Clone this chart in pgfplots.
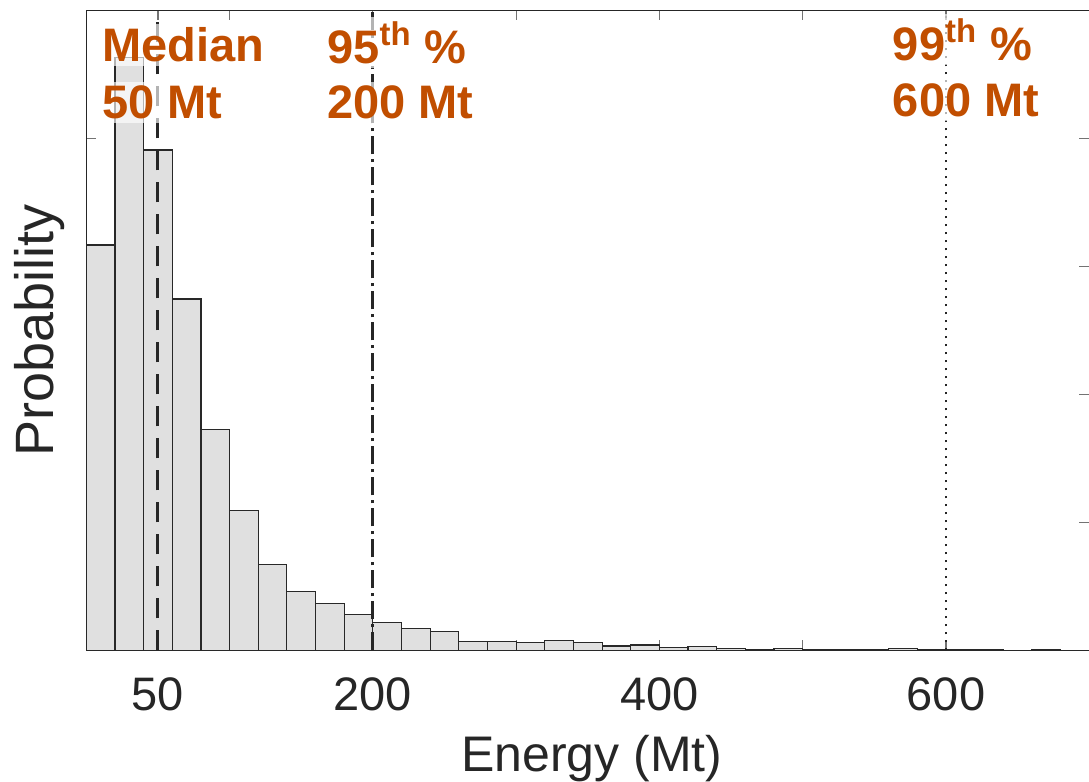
\documentclass[border=0pt]{standalone}
\usepackage{pgfplots}
\pgfplotsset{compat=1.18}
\usepackage{fontspec}
\setmainfont{Liberation Sans}

\definecolor{barfill}{RGB}{224,224,224}
\definecolor{baredge}{RGB}{40,40,40}
\definecolor{axisgray}{RGB}{38,38,38}
\definecolor{annot}{RGB}{193,78,0}

\tikzset{
  annotation/.style={font=\bfseries\fontsize{23.5pt}{28pt}\selectfont, text=annot,
    anchor=base west, inner sep=2pt, xshift=-2pt,
    fill=white, fill opacity=0.65, text opacity=1},
}

\begin{document}
\begin{tikzpicture}
\path[use as bounding box] (-43.15pt,-65.85pt) rectangle (501.35pt,325.15pt);
\begin{axis}[
  scale only axis, width=501.5pt, height=320pt,
  xmin=0, xmax=700, ymin=0, ymax=5,
  xtick={50,100,200,300,400,500,600},
  xticklabels={50,,200,,400,,600},
  ytick={1,2,3,4}, yticklabels={},
  tick align=inside, major tick length=5pt,
  tick style={color=black!55, line width=0.6pt},
  axis line style={color=axisgray, line width=0.7pt},
  /pgf/number format/assume math mode=true,
  x tick label style={font=\fontsize{23.5pt}{28pt}\selectfont, text=axisgray,
    anchor=base, inner sep=0pt, yshift=-30.35pt},
  every axis x label/.style={at={(axis description cs:0.504,-0.190)}, anchor=base,
    font=\fontsize{25pt}{30pt}\selectfont, text=axisgray, inner sep=0pt},
  every axis y label/.style={at={(axis description cs:-0.033,0.5)}, rotate=90, anchor=base,
    font=\fontsize{27pt}{32pt}\selectfont, text=axisgray, inner sep=0pt},
  xlabel={Energy (Mt)},
  ylabel={Probability},
  clip=false,
]
% histogram, 20 Mt bins
\addplot[ybar interval, fill=barfill, draw=baredge, line width=0.6pt] coordinates {
  (0,3.166) (20,4.633) (40,3.909) (60,2.745) (80,1.723) (100,1.091)
  (120,0.669) (140,0.458) (160,0.364) (180,0.278) (200,0.216) (220,0.172)
  (240,0.145) (260,0.067) (280,0.067) (300,0.059) (320,0.075) (340,0.059)
  (360,0.034) (380,0.042) (400,0.019) (420,0.027) (440,0.013) (460,0.004)
  (480,0.015) (500,0.004) (520,0.004) (540,0.004) (560,0.015) (580,0.004)
  (600,0.004) (620,0.004) (640,0) (660,0.004) (680,0) (700,0)
};
% median, 95th and 99th percentiles
\addplot[axisgray, line width=1.45pt, dash pattern=on 10pt off 6pt] coordinates {(50,0) (50,5)};
\addplot[axisgray, line width=1.45pt, dash pattern=on 9pt off 2.5pt on 1.5pt off 2.5pt] coordinates {(200,0) (200,5)};
\addplot[axisgray, line width=1.45pt, dash pattern=on 1.2pt off 2.8pt] coordinates {(600,0) (600,5)};

\node[annotation] at (axis cs:10.9,4.598) {Median};
\node[annotation] at (axis cs:10.9,4.156) {50 Mt};
\node[annotation] at (axis cs:167.9,4.586) {95\textsuperscript{th} \%};
\node[annotation] at (axis cs:167.9,4.156) {200 Mt};
\node[annotation] at (axis cs:562.7,4.610) {99\textsuperscript{th} \%};
\node[annotation] at (axis cs:562.7,4.169) {600 Mt};
\end{axis}
\end{tikzpicture}
\end{document}
